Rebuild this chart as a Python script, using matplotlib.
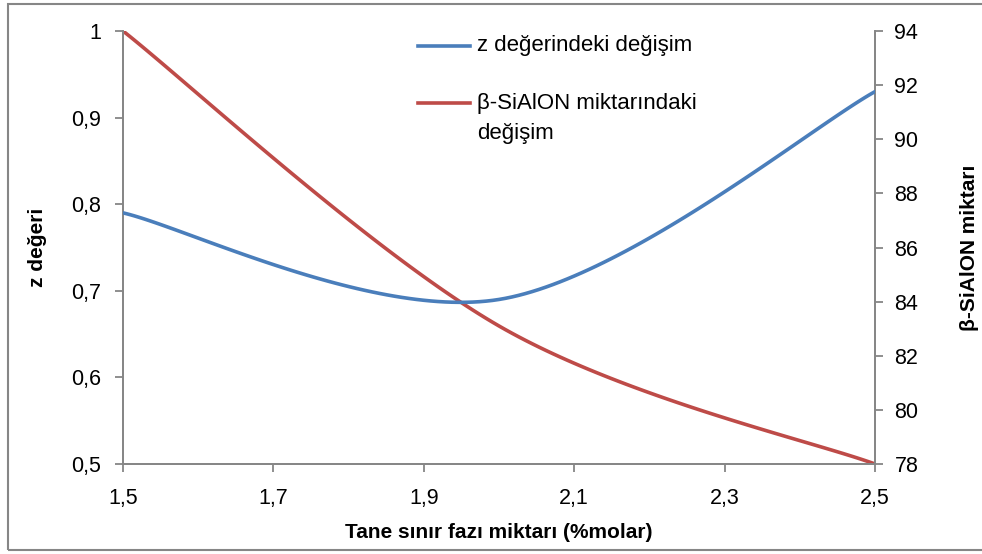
import numpy as np
import matplotlib
matplotlib.use("Agg")
import matplotlib.pyplot as plt
from matplotlib.patches import Rectangle
from matplotlib.lines import Line2D

plt.rcParams['font.family'] = ['Liberation Sans', 'DejaVu Sans']

# measured compositions
tane_sinir = [1.5, 2.0, 2.5]
z_degeri = [0.79, 0.69, 0.93]
sialon_miktari = [94, 83.1, 78]

x_ticks = [1.5, 1.7, 1.9, 2.1, 2.3, 2.5]
z_ticks = [0.5, 0.6, 0.7, 0.8, 0.9, 1.0]
s_ticks = [78, 80, 82, 84, 86, 88, 90, 92, 94]

BLUE = '#4a7ebb'
RED = '#be4b48'
GRAY = '#868686'


def smooth(xs, ys, n=60):
    # bezier smoothing like a spreadsheet "smoothed line"
    p = np.column_stack([xs, ys]).astype(float)
    out = []
    for i in range(len(p) - 1):
        p0 = p[i - 1] if i > 0 else p[i]
        p1, p2 = p[i], p[i + 1]
        p3 = p[i + 2] if i + 2 < len(p) else p[i + 1]
        c1 = p1 + (p2 - p0) / 6
        c2 = p2 - (p3 - p1) / 6
        t = np.linspace(0, 1, n)[:, None]
        seg = ((1 - t) ** 3) * p1 + 3 * ((1 - t) ** 2) * t * c1 + 3 * (1 - t) * t ** 2 * c2 + t ** 3 * p2
        out.append(seg if i == 0 else seg[1:])
    out = np.vstack(out)
    return out[:, 0], out[:, 1]


def comma(v, dec):
    return f"{v:.{dec}f}".replace('.', ',')


fig = plt.figure(figsize=(9.82, 5.54), dpi=100)
ax = fig.add_axes([123 / 982, 1 - 464 / 554, (875 - 123) / 982, (464 - 31) / 554])
ax2 = ax.twinx()

zx, zy = smooth(tane_sinir, z_degeri)
sx, sy = smooth(tane_sinir, sialon_miktari)
ax.plot(zx, zy, color=BLUE, lw=2.6, solid_capstyle='round', zorder=3)
ax2.plot(sx, sy, color=RED, lw=2.6, solid_capstyle='round')
ax.set_zorder(ax2.get_zorder() + 1)
ax.patch.set_visible(False)

ax.set_xlim(1.5, 2.5)
ax.set_ylim(0.5, 1.0)
ax2.set_ylim(78, 94)
ax.set_xticks(x_ticks)
ax.set_xticklabels([comma(v, 1) for v in x_ticks])
ax.set_yticks(z_ticks)
ax.set_yticklabels(['0,5', '0,6', '0,7', '0,8', '0,9', '1'])
ax2.set_yticks(s_ticks)
ax2.set_yticklabels([str(v) for v in s_ticks])

for a in (ax, ax2):
    a.spines['top'].set_visible(False)
    for side in ('left', 'right', 'bottom'):
        a.spines[side].set_color(GRAY)
        a.spines[side].set_linewidth(1.3)
    a.tick_params(colors=GRAY, labelcolor='black', labelsize=15.5, length=6, width=1.3, direction='out')
ax.tick_params(axis='x', pad=11)
ax.tick_params(axis='y', pad=10)
ax2.tick_params(axis='y', pad=8)

ax.set_xlabel('Tane sınır fazı miktarı (%molar)', fontsize=15, fontweight='bold', labelpad=10)
ax.set_ylabel('z değeri', fontsize=15, fontweight='bold', labelpad=17)
ax2.set_ylabel('β-SiAlON miktarı', fontsize=15, fontweight='bold', labelpad=30)

# legend entries drawn inside the plot area
leg = [(BLUE, ['z değerindeki değişim'], 46), (RED, ['β-SiAlON miktarındaki', 'değişim'], 103)]
for col, lines, ypx in leg:
    yf = 1 - ypx / 554
    fig.add_artist(Line2D([418 / 982, 470 / 982], [yf, yf], color=col, lw=2.6))
    for k, txt in enumerate(lines):
        fig.text(477 / 982, 1 - (ypx + 30 * k) / 554, txt, fontsize=16, va='center')

fig.patches.append(Rectangle((8 / 982, 4 / 554), 1.2, 1 - 8 / 554, transform=fig.transFigure,
                             fill=False, edgecolor=GRAY, lw=1.5))

fig.savefig('out.png', dpi=100)
